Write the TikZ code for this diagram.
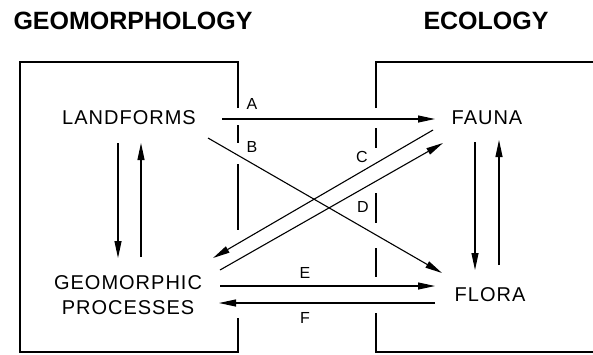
\documentclass[tikz,border=0pt]{standalone}
\usepackage{fontspec}
\setmainfont{Liberation Sans}
\newfontfamily\labfont[LetterSpace=5]{Liberation Sans}
\usetikzlibrary{arrows.meta,calc}
\tikzset{
  boxline/.style={line width=1.9pt},
  arr/.style={line width=1.1pt,-{Triangle[length=17pt,width=7pt]}},
  title/.style={font=\fontsize{25}{28}\selectfont\bfseries, inner sep=0pt},
  lab/.style={font=\fontsize{20}{25}\selectfont\labfont, inner sep=0pt, align=center},
  letter/.style={font=\fontsize{16}{18}\selectfont, inner sep=0pt},
}
\begin{document}
\begin{tikzpicture}[x=1pt,y=-1pt]
\useasboundingbox (0,0) rectangle (593,354);
% titles
\node[title] (t1) at (133,21) {GEOMORPHOLOGY};
\node[title] (t2) at (486,21) {ECOLOGY};
% main nodes
\node[lab] (landforms) at (129,118) {LANDFORMS};
\node[lab] (geo) at (128,295.5) {GEOMORPHIC\\PROCESSES};
\node[lab] (fauna) at (487,118) {FAUNA};
\node[lab] (flora) at (490,295) {FLORA};
% boxes
\draw[boxline] (238,108) -- (238,62) -- (20,62) -- (20,352) -- (238,352) -- (238,318);
\draw[boxline] (238,125) -- (238,143);
\draw[boxline] (238,164) -- (238,230);
\draw[boxline] (376,108) -- (376,62) -- (594,62);
\draw[boxline] (376,128) -- (376,148);
\draw[boxline] (376,193) -- (376,223);
\draw[boxline] (376,248) -- (376,277);
\draw[boxline] (376,313) -- (376,352) -- (594,352);
% vertical arrows
\draw[arr] ($(landforms)+(-11,25)$) -- ($(geo)+(-10,-37.5)$);
\draw[arr] ($(geo)+(13,-38.5)$) -- ($(landforms)+(12,25)$);
\draw[arr] ($(fauna)+(-12,24)$) -- ($(flora)+(-15,-25)$);
\draw[arr] ($(flora)+(9,-30)$) -- ($(fauna)+(12,22)$);
% cross arrows
\draw[arr] ($(landforms)+(93,1)$) -- ($(fauna)+(-52,1)$);
\draw[arr] ($(landforms)+(79,20)$) -- ($(flora)+(-48,-22)$);
\draw[arr] ($(fauna)+(-54,12)$) -- ($(geo)+(85,-37.5)$);
\draw[arr] ($(geo)+(92,-25.5)$) -- ($(fauna)+(-44,25)$);
\draw[arr] ($(geo)+(92,-9.5)$) -- ($(flora)+(-55,-9)$);
\draw[arr] ($(flora)+(-55,8)$) -- ($(geo)+(91,7.5)$);
% letters
\node[letter] (la) at (252,104) {A};
\node[letter] (lb) at (252,147) {B};
\node[letter] (lc) at (362,157) {C};
\node[letter] (ld) at (363,207) {D};
\node[letter] (le) at (305,273) {E};
\node[letter] (lf) at (305,318) {F};
\end{tikzpicture}
\end{document}
